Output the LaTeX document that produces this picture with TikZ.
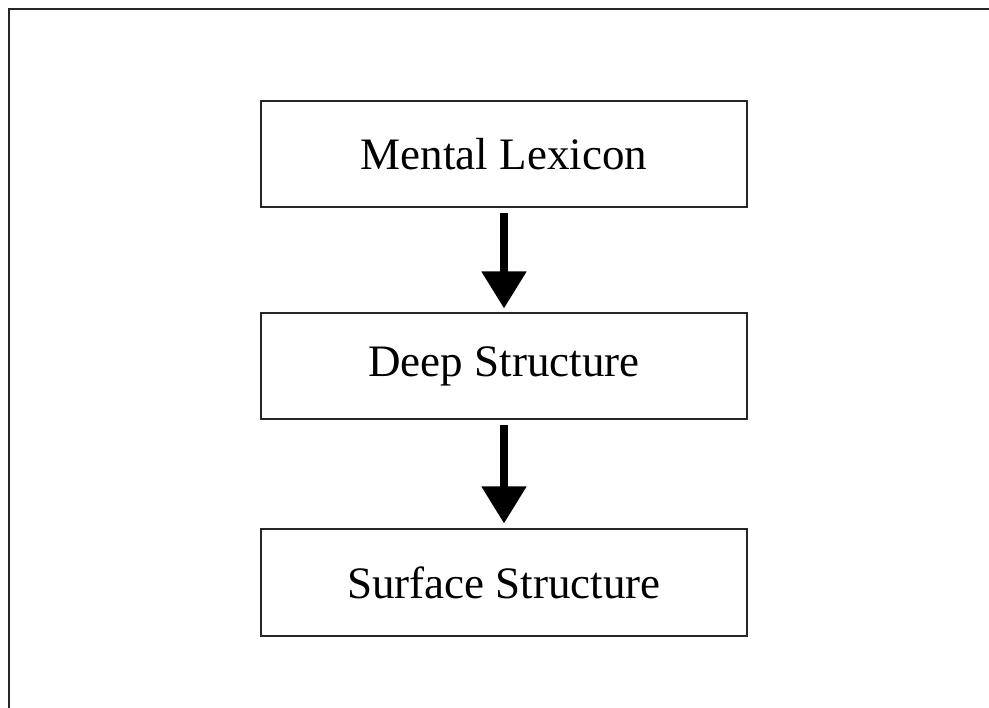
\documentclass[tikz,border=0pt]{standalone}
\usepackage{fontspec}
\setmainfont{Liberation Serif}
\usetikzlibrary{arrows.meta}
\begin{document}
\begin{tikzpicture}[x=1pt,y=-1pt,
  stage/.style={draw=black!85, line width=2pt, minimum width=486pt, minimum height=106pt,
    inner sep=0pt, font=\fontsize{45}{50}\selectfont},
  flow/.style={line width=8pt, -{Triangle[width=43pt,length=37pt]}}]
  \useasboundingbox (0,0) rectangle (989,708);
  % outer frame, running off the right and bottom edges
  \draw[line width=2pt, black!85] (9,720) -- (9,9.5) -- (1000,9.5);
  \node[stage] (lex)  at (504,154.5) {Mental Lexicon};
  \node[stage] (deep) at (504,366.5) {Deep Structure};
  \node[stage] (surf) at (504,582.5) {Surface Structure};
  \draw[flow] ([yshift=-5pt]lex.south) -- ([yshift=4pt]deep.north);
  \draw[flow] ([yshift=-5pt]deep.south) -- ([yshift=5pt]surf.north);
\end{tikzpicture}
\end{document}
